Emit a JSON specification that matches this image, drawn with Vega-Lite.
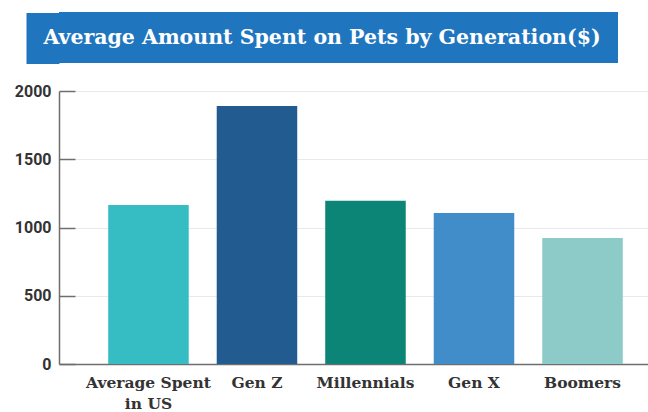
{
  "$schema": "https://vega.github.io/schema/vega-lite/v6.json",
  "padding": {"top": 12, "left": 0, "right": 0, "bottom": 0},
  "background": "white",
  "spacing": 19,
  "datasets": {
    "banner": [{"label": "Average Amount Spent on Pets by Generation($)"}],
    "spend": [
      {"group": "Average Spent in US", "amount": 1165},
      {"group": "Gen Z", "amount": 1890},
      {"group": "Millennials", "amount": 1196},
      {"group": "Gen X", "amount": 1106},
      {"group": "Boomers", "amount": 923}
    ]
  },
  "vconcat": [
    {
      "width": 559,
      "height": 51,
      "data": {"name": "banner"},
      "view": {"fill": "#1F76BF", "stroke": null},
      "mark": {"type": "text", "font": "DejaVu Serif", "fontWeight": "bold", "fontSize": 20.5, "color": "white", "baseline": "middle", "align": "center", "dx": -16.5},
      "encoding": {
        "text": {"field": "label"},
        "y": {"field": "label", "type": "nominal", "axis": {"title": null, "labels": false, "domain": false, "grid": false, "ticks": true, "tickSize": 33, "tickWidth": 51, "tickColor": "#1F76BF", "tickCap": "butt"}}
      }
    },
    {
      "width": 589,
      "height": 273,
      "data": {"name": "spend"},
      "view": {"stroke": null},
      "mark": {"type": "bar"},
      "encoding": {
        "x": {
          "field": "group", "type": "nominal", "sort": null,
          "scale": {"paddingInner": 0.258, "paddingOuter": 0.343, "align": 0.661},
          "axis": {
            "title": null, "labelAngle": 0, "ticks": false,
            "domainColor": "#6e6e6e", "domainWidth": 1.5,
            "labelFont": "DejaVu Serif", "labelFontWeight": "bold", "labelFontSize": 15.5,
            "labelColor": "#333333", "labelLineHeight": 21, "labelPadding": 11,
            "labelOverlap": false, "labelLimit": 300,
            "labelExpr": "datum.value == 'Average Spent in US' ? ['Average Spent', 'in US'] : datum.value"
          }
        },
        "y": {
          "field": "amount", "type": "quantitative",
          "scale": {"domain": [0, 2000], "nice": false},
          "axis": {
            "title": null, "values": [0, 500, 1000, 1500, 2000], "format": "d",
            "tickSize": -16, "tickColor": "#6e6e6e", "tickWidth": 1.5,
            "domainColor": "#6e6e6e", "domainWidth": 1.5,
            "gridColor": "#e9e9e9", "gridWidth": 1.2,
            "labelFont": "Roboto", "labelFontWeight": "bold", "labelFontSize": 16,
            "labelColor": "#333333", "labelPadding": 24
          }
        },
        "color": {
          "field": "group", "type": "nominal", "legend": null,
          "scale": {
            "domain": ["Average Spent in US", "Gen Z", "Millennials", "Gen X", "Boomers"],
            "range": ["#35BDC3", "#215B8F", "#0C8577", "#408DCA", "#8CCBC8"]
          }
        }
      }
    }
  ]
}
